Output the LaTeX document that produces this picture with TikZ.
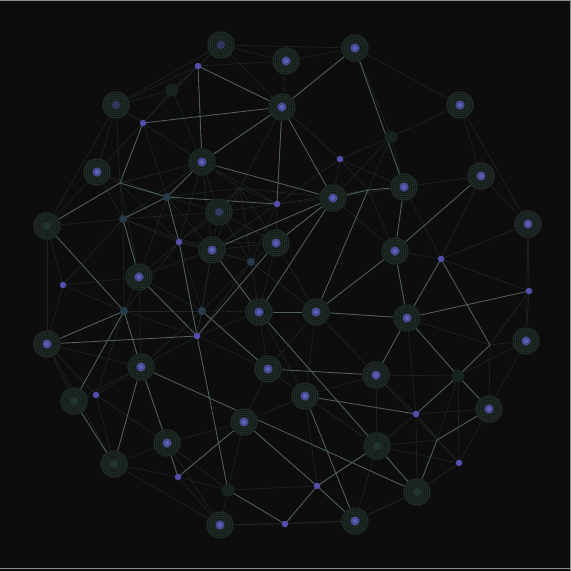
\documentclass[tikz,border=0pt]{standalone}
\begin{document}
\definecolor{bgc}{RGB}{13,13,13}
\definecolor{edgeB}{RGB}{80,95,95}
\definecolor{edgeF}{RGB}{31,37,37}
\definecolor{dotc}{RGB}{72,76,152}
\definecolor{dotcore}{RGB}{96,100,184}
\definecolor{dimdot}{RGB}{50,58,100}
\definecolor{smalldot}{RGB}{84,78,172}
\definecolor{ringc}{RGB}{42,58,51}
\definecolor{glowc}{RGB}{20,27,25}
\definecolor{tealdot}{RGB}{38,60,76}
\definecolor{greenglow}{RGB}{23,35,29}
\definecolor{greencore}{RGB}{34,52,47}
\definecolor{bordc}{RGB}{140,140,140}
\pgfdeclarelayer{edges}
\pgfdeclarelayer{rings}
\pgfsetlayers{edges,rings,main}
\tikzset{
  hub/.style={shape=coordinate},
  meshedge/.style={draw=edgeF, line width=0.6pt},
  brightedge/.style={draw=edgeB, line width=0.85pt},
  ringline/.style={draw=ringc, line width=0.45pt},
  bigdot/.style={circle, inner sep=0pt, minimum size=9pt, fill=dotc},
  dimbigdot/.style={circle, inner sep=0pt, minimum size=8pt, fill=dimdot},
  greenbig/.style={circle, inner sep=0pt, minimum size=8pt, fill=greencore},
  smalldotst/.style={circle, inner sep=0pt, minimum size=6.5pt, fill=smalldot},
  tealst/.style={circle, inner sep=0pt, minimum size=8pt, fill=tealdot},
  greenst/.style={circle, inner sep=0pt, minimum size=13pt, fill=greenglow},
}
\def\allnodes{1/221/45,2/286/61,3/355/48,4/198/66,5/172/90,6/116/105,7/282/107,8/460/105,9/143/123,10/391/137,11/340/159,12/202/162,13/97/172,14/481/176,15/404/187,16/333/198,17/167/197,18/277/204,19/219/212,20/47/226,21/123/219,22/528/224,23/179/242,24/212/250,25/276/243,26/251/262,27/395/251,28/441/259,29/63/285,30/139/277,31/529/291,32/124/311,33/202/311,34/259/312,35/316/312,36/407/318,37/47/344,38/197/336,39/526/341,40/141/367,42/268/369,43/376/375,45/74/401,46/96/395,47/305/396,48/458/376,49/489/409,50/416/414,51/244/422,52/167/443,53/377/446,54/114/464,55/459/463,56/178/477,57/228/490,58/317/486,59/417/492,60/220/525,61/285/524,62/355/521,101/120/183,102/240/188,103/368/190,104/490/345,105/437/440}
\begin{tikzpicture}[x=1pt,y=-1pt]
\useasboundingbox (0,0) rectangle (571,571);
\foreach \i/\px/\py in \allnodes { \node[hub] (n\i) at (\px,\py) {}; }
\begin{pgfonlayer}{edges}
  \fill[bgc] (0,0) rectangle (571,571);
  \foreach \i/\ax/\ay in \allnodes {
    \foreach \j/\bx/\by in \allnodes {
      \ifnum\i<\j\relax
        \pgfmathsetmacro\dd{veclen(\bx-\ax,\by-\ay)}
        \ifdim\dd pt<98pt\relax
          \draw[meshedge] (n\i) -- (n\j);
        \fi
      \fi
    }
  }
  \foreach \a/\b in {1/3,3/8,8/22,22/39,20/37,37/54,54/60,60/62,62/59,6/1,6/20}
    { \draw[meshedge] (n\a) -- (n\b); }
  \foreach \a/\b in {4/7,4/12,9/7,12/7,12/16,7/3,7/18,7/16,3/15,9/101,20/101,101/17,17/18,17/12,17/23,23/38,21/17,21/30,20/32,32/37,32/40,32/45,45/54,37/38,30/38,38/25,24/16,24/34,25/16,16/34,16/103,103/15,103/35,14/27,27/35,27/36,28/36,28/104,104/48,48/50,36/31,35/36,34/35,36/43,36/48,48/49,42/43,47/50,47/62,34/53,53/59,53/58,58/62,58/61,51/58,51/56,52/56,40/52,40/54,40/59,38/57,57/61,59/105,105/49,33/42,15/27}
    { \draw[brightedge] (n\a) -- (n\b); }
  \draw[bordc, line width=1pt] (0,0.5) -- (571,0.5);
  \draw[bordc, line width=1pt] (570.5,0) -- (570.5,571);
  \draw[bordc, line width=1pt] (0,568) -- (571,568);
\end{pgfonlayer}
\begin{pgfonlayer}{rings}
  \foreach \i in {1,2,3,6,7,8,12,13,14,15,16,19,22,24,25,27,30,34,35,36,37,39,40,42,43,47,49,51,52,60,62,20,45,54,53,59} {
    \fill[glowc] (n\i) circle (14pt);
    \foreach \r in {5,7,9,11,13} { \draw[ringline] (n\i) circle (\r pt); }
  }
\end{pgfonlayer}
\foreach \i in {2,3,7,8,12,13,14,15,16,22,24,25,27,30,34,35,36,37,39,40,42,43,47,49,51,52,60,62} {
  \node[bigdot] (d\i) at (n\i) {};
  \fill[dotcore] (n\i) circle (2pt);
}
\foreach \i in {1,6,19} { \node[dimbigdot] (d\i) at (n\i) {}; }
\foreach \i in {20,45,54,53,59} { \node[greenbig] (d\i) at (n\i) {}; }
\foreach \i in {4,9,11,18,23,28,29,31,38,46,50,55,56,58,61} { \node[smalldotst] (d\i) at (n\i) {}; }
\foreach \i in {17,21,26,32,33} { \node[tealst] (d\i) at (n\i) {}; }
\foreach \i in {5,10,48,57} { \node[greenst] (d\i) at (n\i) {}; }
\end{tikzpicture}
\end{document}
